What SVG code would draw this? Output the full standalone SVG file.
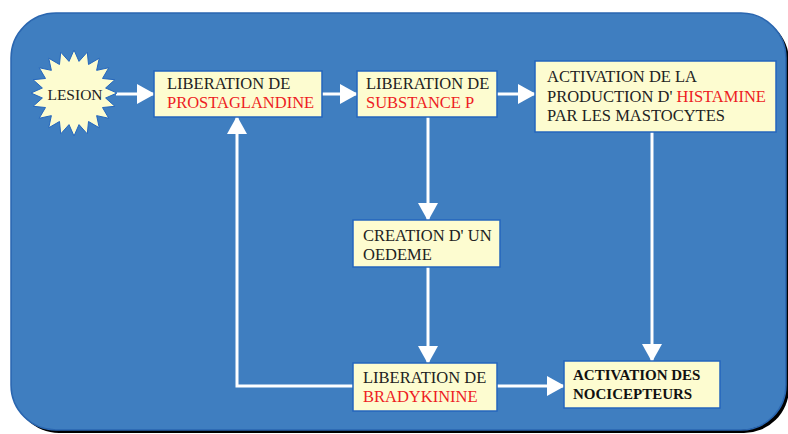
<svg xmlns="http://www.w3.org/2000/svg" width="788" height="434" viewBox="0 0 788 434">
<style>
.box{fill:#fdfcd0;stroke:#2466bd;stroke-width:1.5}
.t{font-family:"Liberation Serif","Times New Roman",serif;font-size:16.5px;fill:#222}
.r{fill:#ee1c24}
.b{font-weight:bold;font-size:15px;fill:#111}
.c{fill:none;stroke:#ffffff;stroke-width:3}
</style>
<defs>
<marker id="ah" viewBox="0 0 18 20" refX="17" refY="10" markerWidth="18" markerHeight="20" markerUnits="userSpaceOnUse" orient="auto">
<path d="M0,0 L18,10 L0,20 Z" fill="#ffffff"/>
</marker>
</defs>
<rect x="0" y="0" width="788" height="434" fill="#ffffff"/>
<rect x="14" y="16" width="775" height="417" rx="45" fill="#000000"/>
<rect x="11" y="13" width="775" height="417" rx="45" fill="#3f7ec0" stroke="#2a66b0" stroke-width="1.5"/>
<g id="connectors">
<line class="c" x1="116" y1="94" x2="154" y2="94" marker-end="url(#ah)"/>
<line class="c" x1="322" y1="94" x2="357" y2="94" marker-end="url(#ah)"/>
<line class="c" x1="497" y1="94" x2="535" y2="94" marker-end="url(#ah)"/>
<line class="c" x1="428" y1="117" x2="428" y2="220" marker-end="url(#ah)"/>
<line class="c" x1="428" y1="267" x2="428" y2="363" marker-end="url(#ah)"/>
<polyline class="c" points="353,386 237,386 237,117" marker-end="url(#ah)"/>
<line class="c" x1="497" y1="386" x2="564" y2="386" marker-end="url(#ah)"/>
<line class="c" x1="652" y1="132" x2="652" y2="361" marker-end="url(#ah)"/>
</g>
<g id="lesion">
<polygon fill="#fdfcd0" stroke="#2466bd" stroke-width="1" points="74,50 79,61.39 87.29,52.1 88.53,64.49 99.28,58.21 96.63,70.37 108.79,67.72 102.51,78.47 114.9,79.71 105.61,88 117,93 105.61,98 114.9,106.29 102.51,107.53 108.79,118.28 96.63,115.63 99.28,127.79 88.53,121.51 87.29,133.9 79,124.61 74,136 69,124.61 60.71,133.9 59.47,121.51 48.72,127.79 51.37,115.63 39.21,118.28 45.49,107.53 33.1,106.29 42.39,98 31,93 42.39,88 33.1,79.71 45.49,78.47 39.21,67.72 51.37,70.37 48.72,58.21 59.47,64.49 60.71,52.1 69,61.39"/>
<text class="t" x="75" y="100" text-anchor="middle" style="font-size:15.5px">LESION</text>
</g>
<g id="prostaglandine">
<rect class="box" x="154" y="71" width="168" height="46"/>
<text class="t" x="167" y="89">LIBERATION DE</text>
<text class="t r" x="167" y="108">PROSTAGLANDINE</text>
</g>
<g id="substanceP">
<rect class="box" x="357" y="71" width="140" height="46"/>
<text class="t" x="366" y="89">LIBERATION DE</text>
<text class="t r" x="366" y="108">SUBSTANCE P</text>
</g>
<g id="histamine">
<rect class="box" x="535" y="61" width="241" height="71"/>
<text class="t" x="547" y="82">ACTIVATION DE LA</text>
<text class="t" x="547" y="102">PRODUCTION D' <tspan class="r">HISTAMINE</tspan></text>
<text class="t" x="547" y="121">PAR LES MASTOCYTES</text>
</g>
<g id="oedeme">
<rect class="box" x="353" y="220" width="147" height="47"/>
<text class="t" x="363" y="241">CREATION D' UN</text>
<text class="t" x="363" y="260">OEDEME</text>
</g>
<g id="bradykinine">
<rect class="box" x="353" y="363" width="144" height="48"/>
<text class="t" x="363" y="383">LIBERATION DE</text>
<text class="t r" x="363" y="402">BRADYKININE</text>
</g>
<g id="nocicepteurs">
<rect class="box" x="564" y="361" width="156" height="47"/>
<text class="t b" x="573" y="380">ACTIVATION DES</text>
<text class="t b" x="573" y="399">NOCICEPTEURS</text>
</g>
</svg>
